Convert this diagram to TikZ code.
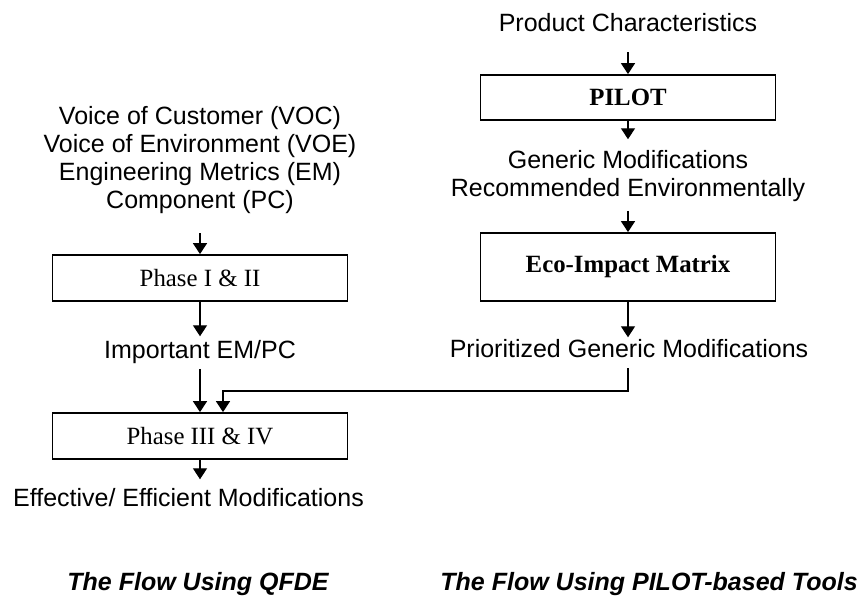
\documentclass[tikz,border=0pt]{standalone}
\usepackage{fontspec}
\setmainfont{Liberation Serif}
\setsansfont{Liberation Sans}
\usetikzlibrary{arrows.meta}

\tikzset{
  box/.style={draw, line width=0.9pt, minimum width=147.5pt, inner sep=0pt, font=\fontsize{12.4}{14}\selectfont},
  txt/.style={inner sep=0pt, align=center, font=\sffamily\fontsize{12.5}{14}\selectfont},
  caption/.style={inner sep=0pt, font=\sffamily\bfseries\itshape\fontsize{12.5}{14}\selectfont},
  flow/.style={-{Triangle[length=5.5pt,width=7pt]}, line width=0.7pt}
}

\begin{document}
\begin{tikzpicture}[x=0.5pt, y=-0.5pt]
\useasboundingbox (0,0) rectangle (861,595);

% QFDE flow
\node[txt]                      (voc)   at (200,160)   {Voice of Customer (VOC)\\Voice of Environment (VOE)\\Engineering Metrics (EM)\\Component (PC)};
\node[box, minimum height=23pt] (ph12)  at (200,278)   {Phase I \& II};
\node[txt, anchor=base]         (em)    at (200,358.8) {Important EM/PC};
\node[box, minimum height=23pt] (ph34)  at (200,436)   {Phase III \& IV};
\node[txt, anchor=base]         (eff)   at (188.5,506.8) {Effective/ Efficient Modifications};

% PILOT flow
\node[txt, anchor=base]         (prod)  at (628,31.8)  {Product Characteristics};
\node[box, minimum height=22.5pt, font=\bfseries\fontsize{12.4}{14}\selectfont] (pilot) at (628,97.5) {PILOT};
\node[txt]                      (gen)   at (628,176.3) {Generic Modifications\\Recommended Environmentally};
\node[box, minimum height=34pt, font=\bfseries\fontsize{12.4}{14}\selectfont]   (eco)   at (628,267)  {Eco-Impact Matrix};
\node[txt, anchor=base]         (prio)  at (629,357.8) {Prioritized Generic Modifications};

\node[caption, anchor=base] (capl) at (198,590.8) {The Flow Using QFDE};
\node[caption, anchor=base] (capr) at (649,590.8) {The Flow Using PILOT-based Tools};

\coordinate (join) at (223,391);

\draw[flow, shorten <=9.7pt] (voc.south)   -- (ph12.north);
\draw[flow, shorten >=2pt]   (ph12.south)  -- (em.north);
\draw[flow, shorten <=2.2pt] (em.south)    -- (ph34.north);
\draw[flow, shorten >=4.5pt] (ph34.south)  -- (ph34.south |- eff.north);
\draw[flow, shorten <=10pt]  (prod.south)  -- (pilot.north);
\draw[flow, shorten >=5.5pt] (pilot.south) -- (gen.north);
\draw[flow, shorten <=4.2pt] (gen.south)   -- (eco.north);
\draw[flow, shorten >=1pt]   (eco.south)   -- (eco.south |- prio.north);
\draw[flow, shorten <=5pt]   (prio.south -| eco.south) |- (join) -- (join |- ph34.north);
\end{tikzpicture}
\end{document}
